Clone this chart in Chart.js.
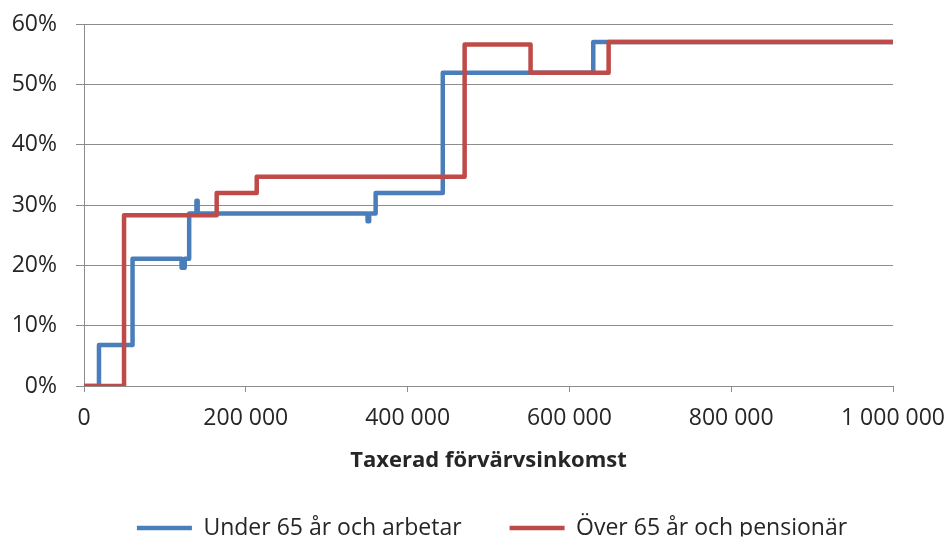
<!DOCTYPE html>
<html>
<head>
<meta charset="utf-8">
<script src="https://cdn.jsdelivr.net/npm/chart.js@4.4.1/dist/chart.umd.min.js"></script>
<style>
  html, body { margin: 0; padding: 0; background: #ffffff; }
  #wrap { width: 952px; height: 542px; }
</style>
</head>
<body>
<div id="wrap"><canvas id="c" width="952" height="542"></canvas></div>
<script>
// Breakpoints: at each income the rate changes to the given value (percent)
const seriesNames = ['Under 65 år och arbetar', 'Över 65 år och pensionär'];
const blueIncome = [0, 18500, 60000, 120600, 124500, 130000, 139000, 140500, 350500, 352500, 360500, 443500, 629500, 1000000];
const blueRate   = [0, 6.8, 21.1, 19.6, 21.1, 28.6, 30.7, 28.6, 27.3, 28.6, 32.0, 51.9, 57.0, 57.0];
const redIncome  = [0, 49500, 164000, 213500, 470500, 552000, 648500, 1000000];
const redRate    = [0, 28.3, 32.0, 34.7, 56.6, 51.9, 57.0, 57.0];
const xTicks = [0, 200000, 400000, 600000, 800000, 1000000];
const yTicks = [0, 10, 20, 30, 40, 50, 60];
const xTitle = 'Taxerad förvärvsinkomst';

const toPoints = (xs, ys) => xs.map((x, i) => ({ x: x, y: ys[i] }));
const fmtThousands = v => String(v).replace(/\B(?=(\d{3})+(?!\d))/g, ' ');

const BLUE = '#4A7EBB';
const RED = '#BE4B48';
const GRID = '#8c8c8c';
const TEXT = '#262626';

Chart.defaults.font.family = "'Open Sans', sans-serif";
Chart.defaults.font.size = 23;
Chart.defaults.color = TEXT;

const legendShift = {
  id: 'legendShift',
  afterLayout(chart) {
    const lg = chart.legend;
    if (!lg) return;
    const d = 492 - (lg.left + lg.right) / 2;
    lg.left += d; lg.right += d;
    const pad = lg.options.labels.padding;
    const fs = lg.options.labels.font.size || 23;
    const h = lg.bottom - lg.top;
    lg.top = 528 - fs / 2 - pad;
    lg.bottom = lg.top + h;
  }
};

const noScalePadding = s => { s.paddingTop = 0; s.paddingBottom = 0; s.paddingLeft = 0; s.paddingRight = 0; };

new Chart(document.getElementById('c'), {
  type: 'scatter',
  data: {
    datasets: [
      {
        label: seriesNames[0],
        data: toPoints(blueIncome, blueRate),
        showLine: true,
        stepped: 'before',
        borderColor: BLUE,
        backgroundColor: BLUE,
        borderWidth: 4.5,
        borderJoinStyle: 'round',
        borderCapStyle: 'round',
        pointRadius: 0,
        pointHoverRadius: 0,
        pointStyle: 'line',
        order: 1
      },
      {
        label: seriesNames[1],
        data: toPoints(redIncome, redRate),
        showLine: true,
        stepped: 'before',
        borderColor: RED,
        backgroundColor: RED,
        borderWidth: 4.5,
        borderJoinStyle: 'round',
        borderCapStyle: 'round',
        pointRadius: 0,
        pointHoverRadius: 0,
        pointStyle: 'line',
        order: 0
      }
    ]
  },
  options: {
    responsive: false,
    animation: false,
    devicePixelRatio: 1,
    layout: { padding: { left: 0, right: 59, top: 24, bottom: 0 } },
    plugins: {
      tooltip: { enabled: false },
      legend: {
        position: 'bottom',
        maxHeight: 68,
        labels: {
          usePointStyle: true,
          pointStyleWidth: 55,
          padding: 48,
          color: TEXT,
          font: { size: 23 },
          sort: (a, b) => a.datasetIndex - b.datasetIndex
        }
      }
    },
    scales: {
      x: {
        type: 'linear',
        min: 0,
        max: 1000000,
        afterBuildTicks: s => { s.ticks = xTicks.map(v => ({ value: v })); },
        afterFit: noScalePadding,
        ticks: {
          padding: 13,
          maxRotation: 0,
          color: TEXT,
          font: { size: 23 },
          callback: v => fmtThousands(v)
        },
        grid: { drawOnChartArea: false, drawTicks: true, tickLength: 6, color: GRID, lineWidth: 1 },
        border: { display: true, color: GRID, width: 1 },
        title: {
          display: true,
          text: xTitle,
          color: TEXT,
          font: { size: 22, weight: 'bold' },
          padding: { top: 2, bottom: 0 }
        }
      },
      y: {
        min: 0,
        max: 60,
        afterBuildTicks: s => { s.ticks = yTicks.map(v => ({ value: v })); },
        afterFit: s => { s.width = 84; noScalePadding(s); },
        ticks: {
          padding: 19,
          color: TEXT,
          font: { size: 23 },
          callback: v => v + '%'
        },
        grid: { drawTicks: true, tickLength: 8, color: GRID, lineWidth: 1 },
        border: { display: true, color: GRID, width: 1 }
      }
    }
  },
  plugins: [legendShift]
});
</script>
</body>
</html>
